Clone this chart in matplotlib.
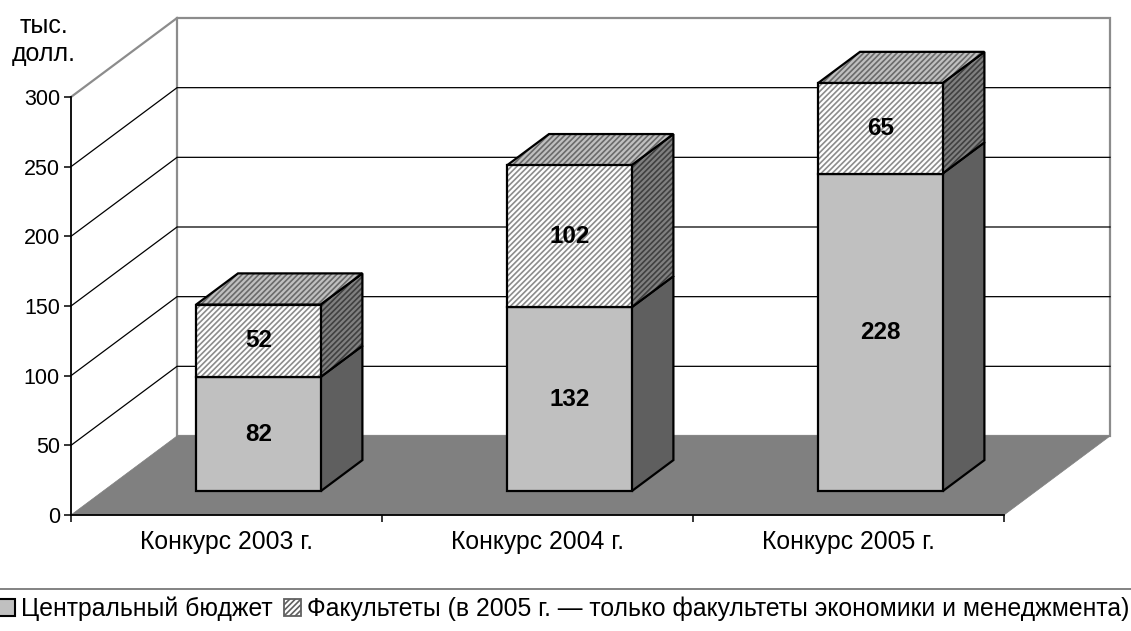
"""
Stacked pseudo-3D bars, contest budgets by year
"""

import matplotlib
matplotlib.use('Agg')
import matplotlib.pyplot as plt
from matplotlib.patches import Polygon, Patch

plt.rcParams['font.family'] = ['Liberation Sans', 'DejaVu Sans']
plt.rcParams['hatch.linewidth'] = 1.2

# Data
categories = ['Конкурс 2003 г.', 'Конкурс 2004 г.', 'Конкурс 2005 г.']
central_budget = [82, 132, 228]
faculties = [52, 102, 65]
y_ticks = [0, 50, 100, 150, 200, 250, 300]
legend_labels = ['Центральный бюджет',
                 'Факультеты (в 2005 г. — только факультеты экономики и менеджмента)']

# Oblique projection: how far one unit of depth moves a point
DX = 0.341
DY = 56.7
BAR_WIDTH = 0.40
BAR_NEAR = 0.30
BAR_FAR = 0.695
HATCH = '//////'

fig = plt.figure(figsize=(11.31, 6.31), dpi=100)
ax = fig.add_axes([71 / 1131, 116 / 631, 933 / 1131, 418 / 631])
ax.set_xlim(-0.5, 2.5)
ax.set_ylim(0, 300)
ax.patch.set_visible(False)


def pt(x, y, depth):
    return (x + depth * DX, y + depth * DY)


def face(points, fc, hatch=None, ec='black', lw=1.6, hatch_color=None, z=3):
    if hatch:
        # hatch takes the edge colour, so fill and outline are drawn separately
        ax.add_patch(Polygon(points, closed=True, facecolor=fc, edgecolor=hatch_color,
                             hatch=hatch, linewidth=0, clip_on=False, zorder=z))
        ax.add_patch(Polygon(points, closed=True, fill=False, edgecolor=ec,
                             linewidth=lw, clip_on=False, zorder=z))
    else:
        ax.add_patch(Polygon(points, closed=True, facecolor=fc, edgecolor=ec,
                             linewidth=lw, clip_on=False, zorder=z))


# Back wall and floor
top = y_ticks[-1]
face([pt(-0.5, 0, 1), pt(2.5, 0, 1), pt(2.5, top, 1), pt(-0.5, top, 1)],
     'white', ec='#8c8c8c', lw=1.6, z=1)
ax.plot(*zip(pt(-0.5, top, 0), pt(-0.5, top, 1)), color='#8c8c8c', lw=1.6,
        clip_on=False, zorder=1)
face([pt(-0.5, 0, 0), pt(2.5, 0, 0), pt(2.5, 0, 1), pt(-0.5, 0, 1)],
     '#808080', ec='#808080', lw=0.5, z=2)

# Gridlines run along the left wall and then the back wall
for v in y_ticks[1:-1]:
    ax.plot(*zip(pt(-0.5, v, 0), pt(-0.5, v, 1), pt(2.5, v, 1)), color='black',
            lw=0.9, clip_on=False, zorder=1.5)

# Bars
for i, (low, high) in enumerate(zip(central_budget, faculties)):
    x0 = i - BAR_WIDTH / 2
    x1 = i + BAR_WIDTH / 2
    total = low + high

    # central budget part
    face([pt(x1, 0, BAR_NEAR), pt(x1, 0, BAR_FAR), pt(x1, low, BAR_FAR), pt(x1, low, BAR_NEAR)],
         '#5f5f5f', z=3)
    face([pt(x0, 0, BAR_NEAR), pt(x1, 0, BAR_NEAR), pt(x1, low, BAR_NEAR), pt(x0, low, BAR_NEAR)],
         '#c0c0c0', z=4)

    # faculties part
    face([pt(x1, low, BAR_NEAR), pt(x1, low, BAR_FAR), pt(x1, total, BAR_FAR), pt(x1, total, BAR_NEAR)],
         '#808080', hatch=HATCH, hatch_color='#404040', z=3)
    face([pt(x0, total, BAR_NEAR), pt(x1, total, BAR_NEAR), pt(x1, total, BAR_FAR), pt(x0, total, BAR_FAR)],
         '#c0c0c0', hatch=HATCH, hatch_color='#6a6a6a', z=3)
    face([pt(x0, low, BAR_NEAR), pt(x1, low, BAR_NEAR), pt(x1, total, BAR_NEAR), pt(x0, total, BAR_NEAR)],
         'white', hatch=HATCH, hatch_color='#8c8c8c', z=4)

    # value labels
    cx, cy = pt(i, low / 2, BAR_NEAR)
    ax.text(cx, cy, str(low), ha='center', va='center', fontsize=17.5,
            fontweight='bold', zorder=5)
    cx, cy = pt(i, low + high / 2, BAR_NEAR)
    ax.text(cx, cy, str(high), ha='center', va='center', fontsize=17.5,
            fontweight='bold', zorder=5)

# Axes
for s in ['top', 'right']:
    ax.spines[s].set_visible(False)
for s in ['left', 'bottom']:
    ax.spines[s].set_linewidth(1.3)
    ax.spines[s].set_zorder(6)
ax.set_yticks(y_ticks)
ax.tick_params(axis='y', labelsize=15.5, length=5, width=1.1, pad=3)
ax.set_xticks([-0.5, 0.5, 1.5, 2.5])
ax.set_xticklabels([])
ax.set_xticks([0, 1, 2], minor=True)
ax.set_xticklabels(categories, minor=True)
ax.tick_params(axis='x', which='major', length=5, width=1.1)
ax.tick_params(axis='x', which='minor', length=0, labelsize=17.8, pad=11)

# Unit caption above the value axis
fig.text(44 / 1131, 1 - 26 / 631, 'тыс.', ha='center', va='center', fontsize=18)
fig.text(44 / 1131, 1 - 54 / 631, 'долл.', ha='center', va='center', fontsize=18)

# Rule above the legend
fig.add_artist(plt.Line2D([0, 1], [1 - 589 / 631, 1 - 589 / 631], color='#606060', lw=1.1))

handles = [Patch(facecolor='#c0c0c0', edgecolor='black', linewidth=1.5),
           Patch(facecolor='white', edgecolor='#606060', hatch=HATCH, linewidth=1.3)]
fig.legend(handles, legend_labels, ncol=2, frameon=False, fontsize=17.8,
           loc='center left', bbox_to_anchor=(-2 / 1131, 1 - 609 / 631),
           handlelength=0.69, handleheight=0.69, handletextpad=0.24, columnspacing=0.45,
           borderpad=0, borderaxespad=0)

plt.savefig('out.png', dpi=100)
